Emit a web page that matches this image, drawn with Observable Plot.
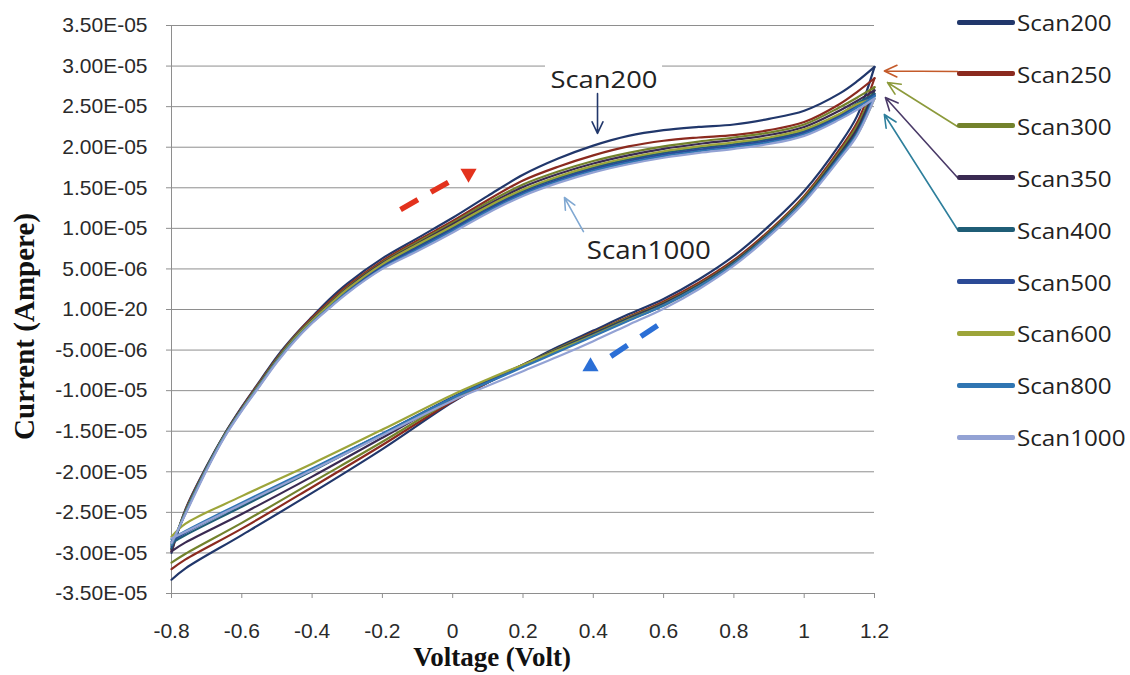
<!DOCTYPE html>
<html><head><meta charset="utf-8">
<script src="https://cdn.jsdelivr.net/npm/d3@7"></script>
<script src="https://cdn.jsdelivr.net/npm/@observablehq/plot@0.6"></script>
<style>
body{margin:0;background:#fff;}
#wrap{position:relative;width:1130px;height:675px;overflow:hidden;background:#fff;}
#legend{position:absolute;left:957px;top:0;width:173px;height:675px;font-family:"Open Sans",sans-serif;}
.item{position:absolute;left:0;height:30px;display:flex;align-items:center;white-space:nowrap;}
.sw{width:58px;height:5px;border-radius:2px;}
.lab{font-size:22px;color:#222;transform:scaleX(1.1);transform-origin:left center;margin-left:2px;}
</style></head>
<body><div id="wrap"><div id="legend"></div></div>
<script>
// ---- data (currents in microampere, i.e. x 1E-06 A) ----
const seriesNames = ["Scan200","Scan250","Scan300","Scan350","Scan400","Scan500","Scan600","Scan800","Scan1000"];
const seriesColors = ["#21376b","#8b2a1f","#73822c","#3a2a52","#1f5d76","#2b4a96","#9da53a","#2f75b2","#93a2d4"];

const vForward = [-0.8,-0.76,-0.7,-0.65,-0.6,-0.55,-0.5,-0.45,-0.4,-0.35,-0.3,-0.2,-0.1,0,0.1,0.2,0.3,0.4,0.5,0.6,0.7,0.8,0.9,1.0,1.1,1.15,1.2];
const vReverse = [1.2,1.15,1.1,1.0,0.9,0.8,0.7,0.6,0.5,0.4,0.3,0.2,0.1,0,-0.2,-0.4,-0.6,-0.76,-0.8];

const fwdScan200  = [-30.0,-24.6,-19.3,-15.4,-12.0,-8.9,-5.8,-3.2,-0.9,1.3,3.2,6.3,8.8,11.3,14.0,16.6,18.6,20.2,21.4,22.1,22.5,22.8,23.5,24.5,26.6,28.1,29.9];
const fwdScan250  = [-29.8,-24.7,-19.4,-15.5,-12.1,-9.0,-6.0,-3.3,-1.0,1.0,2.9,6.0,8.5,10.9,13.5,15.9,17.6,19.0,20.1,20.8,21.2,21.5,22.1,23.1,25.3,26.8,28.5];
const fwdScan300  = [-29.5,-24.8,-19.5,-15.5,-12.2,-9.1,-6.1,-3.4,-1.2,0.8,2.7,5.8,8.3,10.7,13.2,15.4,17.0,18.3,19.3,20.1,20.7,21.2,21.8,22.8,24.9,26.1,27.4];
const fwdScan350  = [-29.6,-24.9,-19.5,-15.5,-12.2,-9.2,-6.2,-3.5,-1.3,0.7,2.6,5.7,8.1,10.5,12.9,15.1,16.7,18.0,19.0,19.8,20.4,20.9,21.5,22.5,24.5,25.7,27.0];
const fwdScan400  = [-29.4,-24.9,-19.5,-15.6,-12.3,-9.3,-6.3,-3.6,-1.4,0.5,2.4,5.5,7.8,10.1,12.5,14.6,16.2,17.5,18.5,19.3,19.9,20.4,21.0,22.0,24.0,25.4,26.6];
const fwdScan500  = [-29.2,-25.0,-19.6,-15.6,-12.3,-9.3,-6.3,-3.7,-1.5,0.4,2.3,5.3,7.6,9.9,12.3,14.4,16.0,17.3,18.3,19.1,19.7,20.2,20.8,21.8,23.8,25.1,26.4];
const fwdScan600  = [-29.0,-25.0,-19.6,-15.6,-12.3,-9.3,-6.3,-3.6,-1.4,0.6,2.5,5.6,8.0,10.3,12.7,14.8,16.4,17.7,18.7,19.5,20.1,20.6,21.2,22.2,24.1,25.3,26.0];
const fwdScan800  = [-29.0,-25.1,-19.7,-15.7,-12.4,-9.4,-6.4,-3.8,-1.6,0.3,2.1,5.1,7.4,9.7,12.1,14.2,15.8,17.1,18.1,18.9,19.5,20.0,20.6,21.6,23.6,24.9,26.3];
const fwdScan1000 = [-28.8,-25.2,-19.8,-15.8,-12.5,-9.5,-6.5,-3.9,-1.7,0.2,2.0,5.0,7.2,9.5,11.9,14.0,15.6,16.9,17.9,18.7,19.3,19.8,20.4,21.4,23.4,24.6,26.0];

const revScan200  = [29.9,23.8,20.3,14.6,10.3,6.6,3.7,1.3,-0.6,-2.6,-4.6,-6.8,-9.0,-11.4,-17.2,-22.6,-27.8,-31.9,-33.3];
const revScan250  = [28.5,23.0,19.7,14.0,9.7,6.1,3.3,1.0,-0.9,-2.8,-4.8,-6.9,-9.0,-11.3,-16.7,-21.9,-27.0,-30.8,-32.0];
const revScan300  = [27.4,22.6,19.4,13.8,9.5,5.9,3.1,0.8,-1.0,-2.9,-4.8,-6.8,-8.9,-11.1,-16.3,-21.3,-26.3,-30.1,-31.2];
const revScan350  = [27.0,22.2,19.1,13.6,9.4,5.8,3.0,0.7,-1.1,-3.0,-4.9,-6.8,-8.8,-10.9,-15.8,-20.6,-25.2,-28.7,-29.8];
const revScan400  = [26.6,21.8,18.9,13.5,9.3,5.7,2.9,0.6,-1.2,-3.1,-5.0,-6.9,-8.8,-10.8,-15.4,-19.9,-24.3,-27.8,-28.8];
const revScan500  = [26.4,21.6,18.7,13.4,9.2,5.6,2.8,0.5,-1.3,-3.2,-5.1,-7.0,-8.9,-10.8,-15.3,-19.7,-24.0,-27.5,-28.6];
const revScan600  = [26.0,21.5,18.6,13.4,9.2,5.6,2.8,0.5,-1.3,-3.2,-5.0,-6.8,-8.6,-10.5,-14.8,-19.0,-23.0,-26.4,-28.0];
const revScan800  = [26.3,21.6,18.7,13.4,9.2,5.6,2.8,0.5,-1.4,-3.3,-5.2,-7.1,-9.0,-10.9,-15.3,-19.6,-23.8,-27.3,-28.3];
const revScan1000 = [26.0,21.4,18.5,13.2,9.0,5.4,2.5,0.1,-1.9,-3.9,-5.8,-7.6,-9.4,-11.2,-15.5,-19.8,-24.0,-27.4,-28.2];

const xTickValues = [-0.8,-0.6,-0.4,-0.2,0,0.2,0.4,0.6,0.8,1,1.2];
const xTickLabels = ["-0.8","-0.6","-0.4","-0.2","0","0.2","0.4","0.6","0.8","1","1.2"];
const yTickValues = [-35,-30,-25,-20,-15,-10,-5,0,5,10,15,20,25,30,35];
const yTickLabels = ["-3.50E-05","-3.00E-05","-2.50E-05","-2.00E-05","-1.50E-05","-1.00E-05","-5.00E-06","1.00E-20","5.00E-06","1.00E-05","1.50E-05","2.00E-05","2.50E-05","3.00E-05","3.50E-05"];

const forwardCurrents = [fwdScan200,fwdScan250,fwdScan300,fwdScan350,fwdScan400,fwdScan500,fwdScan600,fwdScan800,fwdScan1000];
const reverseCurrents = [revScan200,revScan250,revScan300,revScan350,revScan400,revScan500,revScan600,revScan800,revScan1000];

// ---- table for the line mark ----
const rows = seriesNames.flatMap((s, k) => [
  ...vForward.map((v, j) => ({series: s, key: s + "-f", v, i: forwardCurrents[k][j]})),
  ...vReverse.map((v, j) => ({series: s, key: s + "-r", v, i: reverseCurrents[k][j]}))
]);

const sans = "'Liberation Sans', Arial, sans-serif";
const serif = "'Liberation Serif', 'Times New Roman', serif";
const calib = "'Open Sans', sans-serif";
const gridColor = "#8e8e8e";

const legendArrows = [
  {x1: 1.436, y1: 29.33, x2: 1.228, y2: 29.39, c: "#c45a2a"},
  {x1: 1.436, y1: 22.55, x2: 1.237, y2: 27.98, c: "#8c9a3b"},
  {x1: 1.436, y1: 16.27, x2: 1.231, y2: 26.13, c: "#4a3a68"},
  {x1: 1.436, y1: 9.86,  x2: 1.228, y2: 24.03, c: "#2e7f9c"}
];

const chart = Plot.plot({
  width: 1130,
  height: 675,
  marginLeft: 171,
  marginRight: 256,
  marginTop: 25,
  marginBottom: 82,
  style: {fontFamily: sans, background: "#fff", overflow: "visible"},
  x: {domain: [-0.8, 1.2]},
  y: {domain: [-35, 35]},
  color: {domain: seriesNames, range: seriesColors},
  marks: [
    Plot.gridY({ticks: yTickValues, stroke: gridColor, strokeOpacity: 1, strokeWidth: 1}),
    Plot.ruleX([-0.8], {stroke: gridColor, strokeWidth: 1}),
    Plot.ruleY([-35], {stroke: gridColor, strokeWidth: 1}),
    Plot.axisY({ticks: yTickValues, tickFormat: (d, i) => yTickLabels[i], tickSize: 5, tickPadding: 19,
      fontSize: 21, stroke: gridColor, fill: "#2a2a2a", label: null}),
    Plot.axisX({ticks: xTickValues, tickFormat: (d, i) => xTickLabels[i], tickSize: 5, tickPadding: 25,
      fontSize: 21, stroke: gridColor, fill: "#2a2a2a", label: null}),
    Plot.text(["Current (Ampere)"], {frameAnchor: "left", textAnchor: "middle", lineAnchor: "middle",
      dx: -147, dy: 17, rotate: -90,
      fontFamily: serif, fontWeight: "bold", fontSize: 29, fill: "#111"}),
    Plot.text(["Voltage (Volt)"], {frameAnchor: "bottom", lineAnchor: "middle", dx: -31, dy: 64,
      fontFamily: serif, fontWeight: "bold", fontSize: 27, fill: "#111"}),
    // white box behind the "Scan200" note (interrupts the gridline as in the reference)
    Plot.rect([{x1: 0.264, x2: 0.597, y1: 29.3, y2: 30.9}], {x1: "x1", x2: "x2", y1: "y1", y2: "y2", fill: "#fff"}),
    Plot.line(rows, {x: "v", y: "i", z: "key", stroke: "series", strokeWidth: 2.2, curve: "catmull-rom"}),
    // annotations
    Plot.text([{x: 0.4305, y: 28.2}], {x: "x", y: "y", text: () => "Scan200", fontFamily: calib, fontSize: 24, fill: "#222"}),
    Plot.arrow([{x1: 0.412, y1: 26.6, x2: 0.412, y2: 21.7}], {x1: "x1", y1: "y1", x2: "x2", y2: "y2",
      stroke: "#21376b", strokeWidth: 1.6, headLength: 12, headAngle: 50}),
    Plot.text([{x: 0.558, y: 7.27}], {x: "x", y: "y", text: () => "Scan1000", fontFamily: calib, fontSize: 25, fill: "#222"}),
    Plot.arrow([{x1: 0.372, y1: 9.6, x2: 0.318, y2: 13.8}], {x1: "x1", y1: "y1", x2: "x2", y2: "y2",
      stroke: "#80a8d2", strokeWidth: 1.6, headLength: 12, headAngle: 50}),
    Plot.link([{x1: -0.1485, y1: 12.32, x2: -0.0034, y2: 15.9}], {x1: "x1", y1: "y1", x2: "x2", y2: "y2",
      stroke: "#e3321d", strokeWidth: 5.5, strokeDasharray: "20,15"}),
    Plot.dot([{x: 0.045, y: 16.76}], {x: "x", y: "y", symbol: "triangle", rotate: 180, r: 6, fill: "#e3321d"}),
    Plot.link([{x1: 0.5827, y1: -1.97, x2: 0.4404, y2: -6.04}], {x1: "x1", y1: "y1", x2: "x2", y2: "y2",
      stroke: "#2b6fd6", strokeWidth: 5.5, strokeDasharray: "20,16"}),
    Plot.dot([{x: 0.392, y: -7.02}], {x: "x", y: "y", symbol: "triangle", r: 6, fill: "#2b6fd6"}),
    ...legendArrows.map(a => Plot.arrow([a], {x1: "x1", y1: "y1", x2: "x2", y2: "y2", stroke: a.c,
      strokeWidth: 1.6, headLength: 13, headAngle: 50}))
  ]
});

// stretch the Calibri-like annotation texts to the reference widths
d3.select(chart).selectAll("text").each(function () {
  const t = this.textContent;
  if (t === "Scan200") d3.select(this).attr("textLength", 107).attr("lengthAdjust", "spacingAndGlyphs");
  if (t === "Scan1000") d3.select(this).attr("textLength", 124).attr("lengthAdjust", "spacingAndGlyphs");
});

const wrap = document.getElementById("wrap");
wrap.insertBefore(chart, wrap.firstChild);

// legend
const legend = d3.select("#legend");
seriesNames.forEach((s, k) => {
  const item = legend.append("div").attr("class", "item").style("top", (22 + k * 51.9 - 15) + "px");
  item.append("div").attr("class", "sw").style("background", seriesColors[k]);
  item.append("span").attr("class", "lab").text(s);
});
</script>
</body></html>
